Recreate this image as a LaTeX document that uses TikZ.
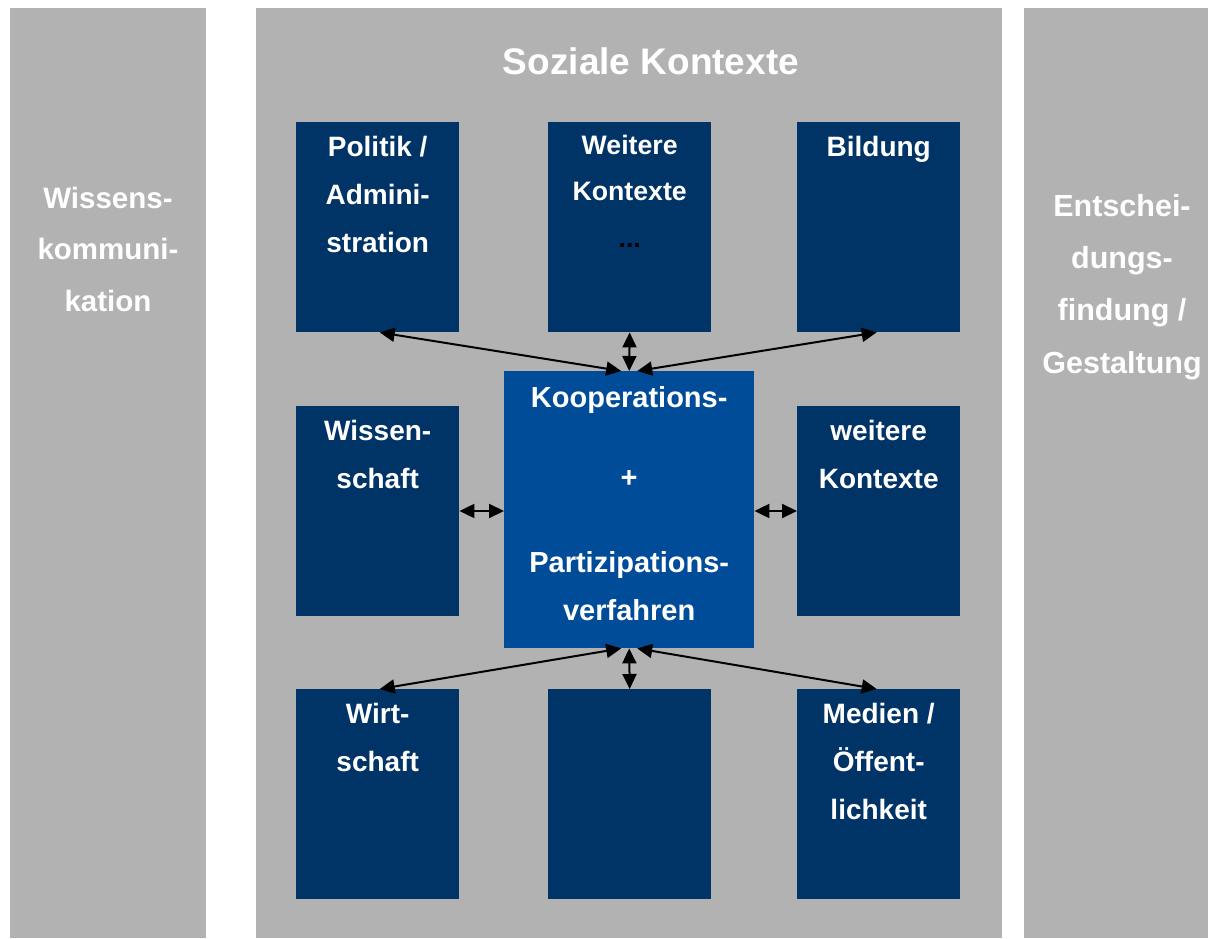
\documentclass[tikz,border=0pt]{standalone}
\usepackage{fontspec}
\setmainfont{Liberation Sans}
\usetikzlibrary{arrows.meta}
\definecolor{bggray}{HTML}{B2B2B2}
\definecolor{darkbox}{HTML}{003366}
\definecolor{midbox}{HTML}{004C99}
\tikzset{
  column/.style={fill=bggray, draw=none, anchor=north west, inner sep=0pt},
  ctxbox/.style={fill=darkbox, draw=none, anchor=north west, inner sep=0pt, minimum width=163pt, minimum height=210pt},
  centerbox/.style={fill=midbox, draw=none, anchor=north west, inner sep=0pt, minimum width=250pt, minimum height=277pt},
  boxtext/.style={anchor=north, inner sep=0pt, align=center, text=white, font=\bfseries\fontsize{28}{48}\selectfont},
  sidetext/.style={anchor=north, inner sep=0pt, align=center, text=white, font=\bfseries\fontsize{29.5}{51.5}\selectfont},
  link/.style={line width=2pt, {Triangle[length=15pt,width=14pt]}-{Triangle[length=15pt,width=14pt]}}
}
\newcommand{\fs}{\rule{0pt}{22pt}}
\begin{document}
\begin{tikzpicture}[x=1pt,y=-1pt]
\useasboundingbox (0,0) rectangle (1208,939);
\fill[white] (0,0) rectangle (1208,939);
% columns
\node[column, minimum width=196pt, minimum height=930pt] (leftcol) at (10,8) {};
\node[column, minimum width=746pt, minimum height=930pt] (midcol) at (256,8) {};
\node[column, minimum width=184pt, minimum height=930pt] (rightcol) at (1024,8) {};
% title
\node[anchor=base, inner sep=0pt, text=white, font=\bfseries\fontsize{37}{44}\selectfont] (title) at (651,75) {Soziale Kontexte};
% side texts
\node[sidetext] (lefttext) at (108,186) {\fs Wissens-\\kommuni-\\kation};
\node[sidetext, font=\bfseries\fontsize{30.5}{52.3}\selectfont] (righttext) at (1122,194) {\fs Entschei-\\dungs-\\findung /\\Gestaltung};
% boxes
\node[ctxbox] (pol) at (296,122) {};
\node[ctxbox] (wei) at (548,122) {};
\node[ctxbox] (bil) at (797,122) {};
\node[ctxbox] (wis) at (296,406) {};
\node[ctxbox] (wk) at (797,406) {};
\node[ctxbox] (wir) at (296,689) {};
\node[ctxbox] (emp) at (548,689) {};
\node[ctxbox] (med) at (797,689) {};
\node[centerbox] (kp) at (504,371) {};
% texts
\node[boxtext] (poltext) at ([yshift=-12]pol.north) {\fs Politik /\\Admini-\\stration};
\node[boxtext, font=\bfseries\fontsize{26.7}{46.5}\selectfont] (weitext) at ([yshift=-10]wei.north) {\fs Weitere\\Kontexte\\\textcolor{black}{...}};
\node[boxtext] (biltext) at ([yshift=-12]bil.north) {\fs Bildung};
\node[boxtext] (wistext) at ([yshift=-12]wis.north) {\fs Wissen-\\schaft};
\node[boxtext] (wktext) at ([yshift=-12]wk.north) {\fs weitere\\Kontexte};
\node[boxtext] (wirtext) at ([yshift=-12]wir.north) {\fs Wirt-\\schaft};
\node[boxtext] (medtext) at ([yshift=-12]med.north) {\fs Medien /\\Öffent-\\lichkeit};
\node[boxtext, font=\bfseries\fontsize{29}{48}\selectfont] (kptext) at ([yshift=-14]kp.north) {\fs Kooperations-\\[32pt]+\\[37pt]Partizipations-\\verfahren};
% connectors
\draw[link] ([xshift=2]pol.south) -- ([xshift=-8]kp.north);
\draw[link] (wei.south) -- (kp.north);
\draw[link] ([xshift=-2]bil.south) -- ([xshift=8]kp.north);
\draw[link] (wis.east |- 0,511) -- (kp.west |- 0,511);
\draw[link] (kp.east |- 0,511) -- (wk.west |- 0,511);
\draw[link] ([xshift=-8]kp.south) -- ([xshift=2]wir.north);
\draw[link] (kp.south) -- (emp.north);
\draw[link] ([xshift=8]kp.south) -- ([xshift=-2]med.north);
\end{tikzpicture}
\end{document}
